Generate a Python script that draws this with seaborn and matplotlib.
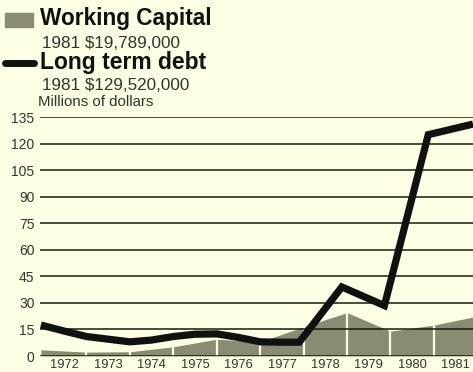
import matplotlib
matplotlib.use("Agg")
import matplotlib.pyplot as plt
import seaborn as sns
import pandas as pd
import numpy as np

# ---- data ----
years = [1972, 1973, 1974, 1975, 1976, 1977, 1978, 1979, 1980, 1981]
year_labels = [str(y) for y in years]
# working capital area, values at year-boundaries (1971.5 ... 1981.5)
wc_x = [1971.45, 1972.5, 1973.5, 1974.5, 1975.5, 1976.5, 1977.5, 1978.5, 1979.5, 1980.5, 1981.4]
wc_y = [3.5, 2.2, 2.4, 5.2, 9.5, 8.0, 16.5, 24.5, 14.0, 17.5, 22.0]
# long term debt line
debt_x = [1971.45, 1972.0, 1972.5, 1973.0, 1973.5, 1974.0, 1974.5, 1975.0, 1975.5,
          1976.0, 1976.5, 1977.0, 1977.4, 1978.38, 1979.36, 1980.37, 1981.4]
debt_y = [17.5, 14.0, 11.0, 9.5, 8.0, 9.0, 11.0, 12.3, 12.5,
          10.5, 8.0, 7.8, 7.8, 39.0, 28.5, 125.0, 131.0]
y_ticks = [0, 15, 30, 45, 60, 75, 90, 105, 120, 135]

BG = "#fdfde4"
AREA = "#8b8a72"

sns.set_style("white")
plt.rcParams["font.family"] = ["Liberation Sans", "DejaVu Sans"]

fig = plt.figure(figsize=(4.73, 3.72), dpi=100, facecolor=BG)
ax = fig.add_axes([40 / 473, 16 / 372, 1 - 40 / 473, 239 / 372])
ax.set_facecolor(BG)

ax.fill_between(wc_x, 0, wc_y, color=AREA, linewidth=0, zorder=1)
# white dividers at interior boundaries
ax.vlines(wc_x[1:-1], 0, wc_y[1:-1], color="#fbfbe8", linewidth=1.6, zorder=2)

for t in y_ticks:
    ax.axhline(t, color="#1a1a10", linewidth=1.1, zorder=3)

df = pd.DataFrame({"x": debt_x, "y": debt_y})
sns.lineplot(data=df, x="x", y="y", ax=ax, color="#111111", linewidth=5.2,
             zorder=4, sort=False)
for l in ax.lines[-1:]:
    l.set_solid_capstyle("butt")
    l.set_solid_joinstyle("miter")

ax.set_xlim(1971.43, 1981.4)
ax.set_ylim(0, 135)
ax.set_yticks(y_ticks)
ax.set_yticklabels([str(t) for t in y_ticks], fontsize=10, color="#333333")
ax.set_xticks(years)
ax.set_xticklabels(year_labels, fontsize=9.3, color="#333333")
ax.tick_params(axis="both", length=0)
ax.tick_params(axis="y", pad=4)
ax.tick_params(axis="x", pad=2.5)
ax.set_xlabel("")
ax.set_ylabel("")
for s in ax.spines.values():
    s.set_visible(False)
ax.grid(False)

# legend / titles
fig.patches.append(matplotlib.patches.Rectangle((5 / 473, 1 - 27 / 372), 28 / 473, 14 / 372,
                                                transform=fig.transFigure, color=AREA, figure=fig))
fig.text(40 / 473, 1 - 18 / 372, "Working Capital", fontsize=16.3, fontweight="bold",
         color="#111111", va="center", ha="left")
fig.text(42 / 473, 1 - 44 / 372, "1981 $19,789,000", fontsize=12.3, color="#333333",
         va="center", ha="left")
fig.lines.append(matplotlib.lines.Line2D([5 / 473, 34 / 473], [1 - 63 / 372, 1 - 63 / 372],
                                         transform=fig.transFigure, color="#111111",
                                         linewidth=5, figure=fig))
fig.text(40 / 473, 1 - 63 / 372, "Long term debt", fontsize=16.5, fontweight="bold",
         color="#111111", va="center", ha="left")
fig.text(42 / 473, 1 - 85 / 372, "1981 $129,520,000", fontsize=12.3, color="#333333",
         va="center", ha="left")
fig.text(38 / 473, 1 - 102 / 372, "Millions of dollars", fontsize=10.8, color="#333333",
         va="center", ha="left")

fig.savefig("out.png", dpi=100, facecolor=BG)
